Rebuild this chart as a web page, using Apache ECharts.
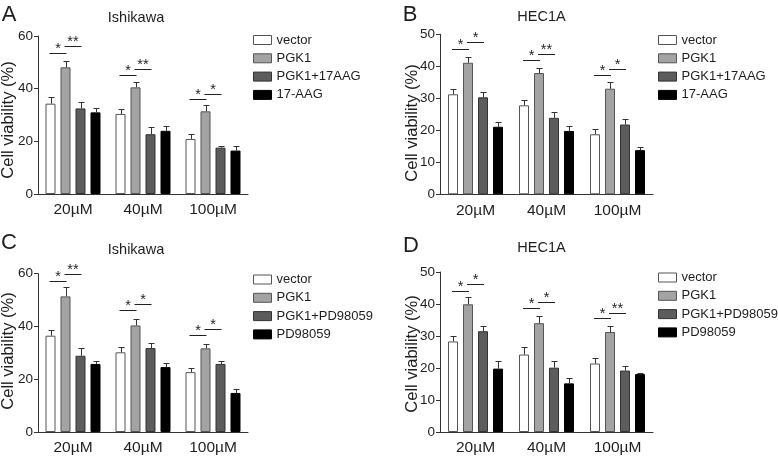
<!DOCTYPE html>
<html><head><meta charset="utf-8">
<script src="https://cdn.jsdelivr.net/npm/echarts@6/dist/echarts.min.js"></script>
<style>html,body{margin:0;padding:0;background:#fff}#c{width:778px;height:458px}</style>
</head><body><div id="c"></div>
<script>
// ---------- data ----------
const categories = ['20µM', '40µM', '100µM'];
const namesAB = ['vector', 'PGK1', 'PGK1+17AAG', '17-AAG'];
const namesCD = ['vector', 'PGK1', 'PGK1+PD98059', 'PD98059'];

// Panel A (Ishikawa, 17-AAG) — rows follow namesAB, columns follow categories
const meansA = [[34.3, 30.4, 20.9], [48.1, 40.5, 31.4], [32.5, 22.7, 17.6], [31.0, 24.0, 16.5]];
const errA   = [[2.7, 1.9, 1.8], [2.4, 2.2, 2.3], [2.4, 2.6, 0.8], [1.8, 1.9, 1.8]];
// significance: [category, fromBar, toBar, height, stars]
const sigA = [[0,0,1,53.7,1],[0,1,2,56.2,2],[1,0,1,45.2,1],[1,1,2,47.5,2],[2,0,1,36.0,1],[2,1,2,38.1,1]];

// Panel B (HEC1A, 17-AAG)
const meansB = [[31.25, 27.8, 18.75], [41.1, 37.9, 33.0], [30.3, 23.9, 21.8], [21.1, 19.8, 13.8]];
const errB   = [[1.55, 1.8, 1.75], [1.8, 1.6, 2.2], [1.7, 1.9, 1.8], [1.6, 1.7, 1.1]];
const sigB = [[0,0,1,45.3,1],[0,1,2,47.7,1],[1,0,1,41.9,1],[1,1,2,43.8,2],[2,0,1,37.3,1],[2,1,2,39.2,1]];

// Panel C (Ishikawa, PD98059)
const meansC = [[36.5, 30.2, 22.7], [51.4, 40.4, 31.7], [28.9, 31.8, 25.8], [25.8, 24.6, 14.8]];
const errC   = [[2.0, 1.9, 1.6], [3.4, 2.4, 1.6], [3.1, 1.8, 1.2], [1.0, 1.5, 1.4]];
const sigC = [[0,0,1,57.3,1],[0,1,2,60.0,2],[1,0,1,46.1,1],[1,1,2,48.4,1],[2,0,1,36.6,1],[2,1,2,39.2,1]];

// Panel D (HEC1A, PD98059)
const meansD = [[28.3, 24.2, 21.4], [39.9, 34.0, 31.25], [31.5, 20.1, 19.2], [19.8, 15.2, 18.1]];
const errD   = [[1.8, 2.4, 1.8], [2.3, 2.1, 1.85], [1.5, 2.1, 1.3], [2.4, 1.7, 0.4]];
const sigD = [[0,0,1,44.2,1],[0,1,2,46.25,1],[1,0,1,38.6,1],[1,1,2,40.6,1],[2,0,1,35.6,1],[2,1,2,37.3,2]];

const yMax = [60, 50, 60, 50];
const yInterval = [20, 10, 20, 10];
const panelTitles = ['Ishikawa', 'HEC1A', 'Ishikawa', 'HEC1A'];
const panelLetters = ['A', 'B', 'C', 'D'];

// ---------- styling / layout ----------
const FONT = '"Liberation Sans", Arial, Helvetica, sans-serif';
const TXT = '#1e1e1e';
const AX = '#333';
const fills = ['#ffffff', '#a3a3a3', '#5c5c5c', '#000000'];
const borders = ['#555555', '#555555', '#333333', '#000000'];
const BAR_W = 10, STEP = 15;

const panels = [
  {means: meansA, err: errA, sig: sigA, names: namesAB,
   grid: {left: 38, top: 36, width: 210, height: 158},
   legend: {left: 253, top: 33.5}, letter: [9, 15], title: [136, 18], yname: [8, 120]},
  {means: meansB, err: errB, sig: sigB, names: namesAB,
   grid: {left: 440, top: 34.3, width: 213, height: 160},
   legend: {left: 658, top: 33.5}, letter: [410, 15], title: [541.5, 17], yname: [412.5, 123]},
  {means: meansC, err: errC, sig: sigC, names: namesCD,
   grid: {left: 38, top: 273.7, width: 210, height: 158.3},
   legend: {left: 253, top: 273}, letter: [9, 243], title: [136, 249.5], yname: [8, 351]},
  {means: meansD, err: errD, sig: sigD, names: namesCD,
   grid: {left: 440, top: 272, width: 213, height: 160},
   legend: {left: 658, top: 271}, letter: [411, 245.5], title: [541.5, 248], yname: [412.5, 354]}
];

function renderErr(params, api) {
  const cat = api.value(0), s = api.value(1), v = api.value(2), e = api.value(3);
  const p0 = api.coord([cat, v]);
  const p1 = api.coord([cat, v + e]);
  const x = Math.round(p0[0] + (s - 1.5) * STEP) + 0.5;
  const yt = Math.round(p1[1]) + 0.5;
  return {type: 'group', children: [
    {type: 'line', shape: {x1: x, y1: p0[1], x2: x, y2: yt}, style: {stroke: '#333', lineWidth: 1}},
    {type: 'line', shape: {x1: x - 3, y1: yt, x2: x + 3, y2: yt}, style: {stroke: '#333', lineWidth: 1}}
  ]};
}
function renderSig(params, api) {
  const cat = api.value(0), f = api.value(1), t = api.value(2), y = api.value(3), n = api.value(4);
  const p = api.coord([cat, y]);
  const x1 = p[0] + (f - 1.5) * STEP - 1, x2 = p[0] + (t - 1.5) * STEP + 1;
  const yy = Math.round(p[1]) + 0.5;
  return {type: 'group', children: [
    {type: 'line', shape: {x1: x1, y1: yy, x2: x2, y2: yy}, style: {stroke: '#222', lineWidth: 1}},
    {type: 'text', x: (x1 + x2) / 2, y: yy + 2.5,
     style: {text: '*'.repeat(n), fill: TXT, font: '14.5px ' + FONT, align: 'center', verticalAlign: 'bottom'}}
  ]};
}

const option = {animation: false, grid: [], xAxis: [], yAxis: [], series: [], legend: [], graphic: []};
panels.forEach((P, i) => {
  option.grid.push(Object.assign({containLabel: false}, P.grid));
  option.xAxis.push({
    type: 'category', gridIndex: i, data: categories,
    axisLine: {lineStyle: {color: AX, width: 1}},
    axisTick: {alignWithLabel: true, length: 4, lineStyle: {color: AX}},
    axisLabel: {fontSize: 15.5, color: TXT, fontFamily: FONT, margin: 8}
  });
  option.yAxis.push({
    type: 'value', gridIndex: i, min: 0, max: yMax[i], interval: yInterval[i],
    splitLine: {show: false},
    axisLine: {show: true, lineStyle: {color: AX, width: 1}},
    axisTick: {show: true, length: 4, lineStyle: {color: AX}},
    axisLabel: {fontSize: 13.5, color: TXT, fontFamily: FONT, margin: 5}
  });
  P.names.forEach((nm, s) => {
    option.series.push({
      type: 'bar', name: nm, xAxisIndex: i, yAxisIndex: i, data: P.means[s],
      barWidth: BAR_W, barGap: '50%',
      itemStyle: {color: fills[s], borderColor: borders[s], borderWidth: 1}
    });
  });
  const errData = [];
  P.means.forEach((row, s) => row.forEach((v, c) => errData.push([c, s, v, P.err[s][c]])));
  option.series.push({type: 'custom', xAxisIndex: i, yAxisIndex: i, renderItem: renderErr,
    data: errData, encode: {x: 0, y: 2}, z: 5, silent: true});
  option.series.push({type: 'custom', xAxisIndex: i, yAxisIndex: i, renderItem: renderSig,
    data: P.sig, encode: {x: 0, y: 3}, z: 5, clip: false, silent: true});
  option.legend.push({
    data: P.names, orient: 'vertical', left: P.legend.left, top: P.legend.top, padding: 0,
    icon: 'rect', itemWidth: 18, itemHeight: 9, itemGap: 5.3,
    itemStyle: {borderWidth: 1},
    textStyle: {fontSize: 13, color: TXT, fontFamily: FONT, lineHeight: 13, padding: [0, 0, 0, 0]}
  });
  option.graphic.push(
    {type: 'text', x: P.letter[0], y: P.letter[1],
     style: {text: panelLetters[i], font: '22px ' + FONT, fill: TXT, align: 'center', verticalAlign: 'middle'}},
    {type: 'text', x: P.title[0], y: P.title[1],
     style: {text: panelTitles[i], font: '14.5px ' + FONT, fill: TXT, align: 'center', verticalAlign: 'middle'}},
    {type: 'text', x: P.yname[0], y: P.yname[1], rotation: Math.PI / 2,
     style: {text: 'Cell viability (%)', font: '16.5px ' + FONT, fill: TXT, align: 'center', verticalAlign: 'middle'}}
  );
});

const chart = echarts.init(document.getElementById('c'), null, {renderer: 'canvas'});
chart.setOption(option);
</script>
</body></html>
